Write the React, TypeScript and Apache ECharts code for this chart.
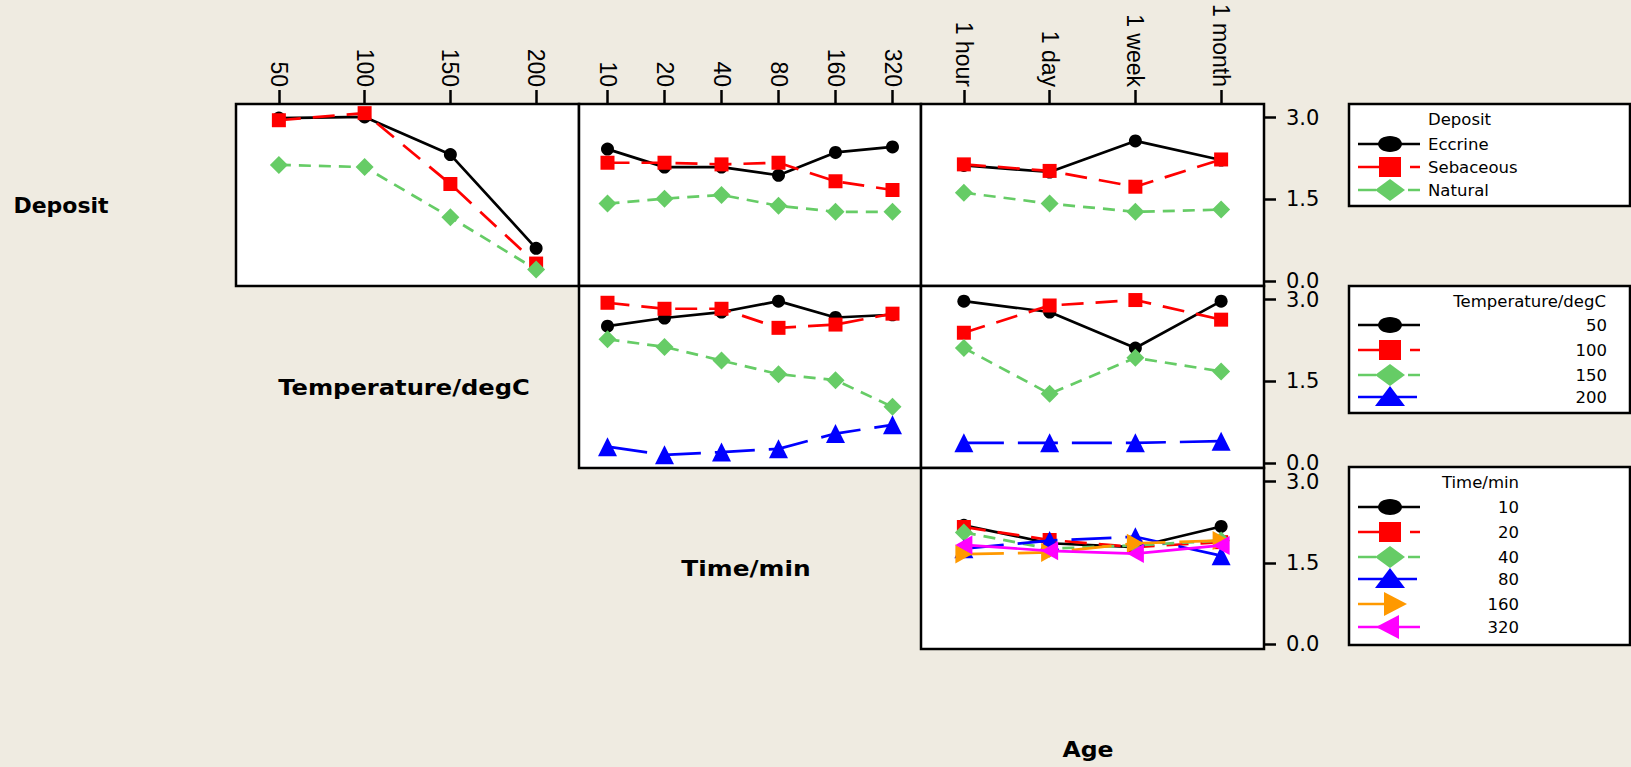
import React, { useEffect, useRef } from "react";
import * as echarts from "echarts";

// ---------- categories ----------
const temperatureLevels = ["50", "100", "150", "200"];
const timeLevels = ["10", "20", "40", "80", "160", "320"];
const ageLevels = ["1 hour", "1 day", "1 week", "1 month"];
const depositLevels = ["Eccrine", "Sebaceous", "Natural"];
const yTickMin = 0;
const yTickMax = 3.0;
const yTickStep = 1.5;

// ---------- Deposit traces ----------
const depTempEccrine = [2.99, 3.01, 2.32, 0.6];
const depTempSebaceous = [2.95, 3.08, 1.78, 0.32];
const depTempNatural = [2.13, 2.09, 1.17, 0.21];

const depTimeEccrine = [2.42, 2.09, 2.09, 1.94, 2.36, 2.46];
const depTimeSebaceous = [2.17, 2.17, 2.14, 2.17, 1.83, 1.67];
const depTimeNatural = [1.42, 1.51, 1.58, 1.38, 1.27, 1.27];

const depAgeEccrine = [2.12, 2.0, 2.57, 2.22];
const depAgeSebaceous = [2.14, 2.02, 1.73, 2.23];
const depAgeNatural = [1.62, 1.42, 1.27, 1.31];

// ---------- Temperature traces ----------
const tempTime50 = [2.51, 2.66, 2.77, 2.97, 2.67, 2.72];
const tempTime100 = [2.94, 2.83, 2.83, 2.48, 2.54, 2.74];
const tempTime150 = [2.27, 2.13, 1.88, 1.63, 1.52, 1.03];
const tempTime200 = [0.3, 0.15, 0.2, 0.26, 0.54, 0.7];

const tempAge50 = [2.97, 2.77, 2.11, 2.97];
const tempAge100 = [2.39, 2.89, 2.99, 2.63];
const tempAge150 = [2.11, 1.27, 1.93, 1.68];
const tempAge200 = [0.37, 0.37, 0.37, 0.4];

// ---------- Time traces ----------
const timeAge10 = [2.19, 1.86, 1.79, 2.17];
const timeAge20 = [2.16, 1.92, 1.79, 1.88];
const timeAge40 = [2.06, 1.76, 1.82, 1.91];
const timeAge80 = [1.76, 1.91, 1.98, 1.63];
const timeAge160 = [1.66, 1.69, 1.86, 1.91];
const timeAge320 = [1.83, 1.72, 1.67, 1.82];

// ---------- row labels ----------
const rowLabels = ["Deposit", "Temperature/degC", "Time/min", "Age"];

const BG = "#EFEBE1";
const FONT = "'DejaVu Sans', Verdana, sans-serif";

type TraceStyle = {
  color: string;
  symbol: string;
  size: number | number[];
  dash: any;
  shape: string;
  legendSegs: number[][];
};

const traceStyles: TraceStyle[] = [
  { color: "#000000", symbol: "circle", size: 13, dash: "solid", shape: "circle", legendSegs: [[1358, 1420]] },
  { color: "#FF0000", symbol: "rect", size: 14, dash: [22, 12], shape: "rect", legendSegs: [[1358, 1380], [1410, 1420]] },
  { color: "#66CC66", symbol: "diamond", size: 18, dash: [12, 8], shape: "diamond", legendSegs: [[1358, 1376], [1408, 1420]] },
  { color: "#0000FF", symbol: "triangle", size: 19, dash: [40, 14], shape: "triangle", legendSegs: [[1358, 1417]] },
  { color: "#FF9900", symbol: "path://M0,0L10,6L0,12Z", size: [17, 19], dash: [40, 14], shape: "right", legendSegs: [[1358, 1385]] },
  { color: "#FF00FF", symbol: "path://M10,0L0,6L10,12Z", size: [17, 19], dash: "solid", shape: "left", legendSegs: [[1358, 1420]] },
];

// panel frames (outer boxes) and the inner value band (0 .. 3) of each row
const colLeft = [236, 579, 921];
const colRight = [579, 921, 1264];
const rowTop = [104, 286, 468];
const rowBottom = [286, 468, 649];
const BAND_TOP_PAD = 13.5; // distance from frame top to the 3.0 level
const BAND_BOTTOM_PAD = 5; // distance from the 0.0 level to frame bottom

const panels = [
  { row: 0, col: 0, levels: temperatureLevels, names: depositLevels, traces: [depTempEccrine, depTempSebaceous, depTempNatural] },
  { row: 0, col: 1, levels: timeLevels, names: depositLevels, traces: [depTimeEccrine, depTimeSebaceous, depTimeNatural] },
  { row: 0, col: 2, levels: ageLevels, names: depositLevels, traces: [depAgeEccrine, depAgeSebaceous, depAgeNatural] },
  { row: 1, col: 1, levels: timeLevels, names: temperatureLevels, traces: [tempTime50, tempTime100, tempTime150, tempTime200] },
  { row: 1, col: 2, levels: ageLevels, names: temperatureLevels, traces: [tempAge50, tempAge100, tempAge150, tempAge200] },
  { row: 2, col: 2, levels: ageLevels, names: timeLevels, traces: [timeAge10, timeAge20, timeAge40, timeAge80, timeAge160, timeAge320] },
];

function markerGraphic(shape: string, cx: number, cy: number, color: string): any {
  const style = { fill: color, stroke: color, lineWidth: 0 };
  switch (shape) {
    case "circle":
      return { type: "ellipse", shape: { cx, cy, rx: 12, ry: 8 }, style };
    case "rect":
      return { type: "rect", shape: { x: cx - 11, y: cy - 10, width: 22, height: 20 }, style };
    case "diamond":
      return { type: "polygon", shape: { points: [[cx - 15, cy], [cx, cy - 11], [cx + 15, cy], [cx, cy + 11]] }, style };
    case "triangle":
      return { type: "polygon", shape: { points: [[cx - 15, cy + 9], [cx, cy - 11], [cx + 15, cy + 9]] }, style };
    case "right":
      return { type: "polygon", shape: { points: [[cx - 11, cy - 12], [cx + 12, cy], [cx - 11, cy + 12]] }, style };
    default:
      return { type: "polygon", shape: { points: [[cx + 11, cy - 12], [cx - 12, cy], [cx + 11, cy + 12]] }, style };
  }
}

function legendBox(
  box: number[],
  title: string,
  titleX: number,
  titleY: number,
  titleAlign: string,
  names: string[],
  ys: number[],
  textX: number,
  textAlign: string
): any[] {
  const els: any[] = [];
  els.push({
    type: "rect",
    shape: { x: box[0], y: box[1], width: box[2] - box[0], height: box[3] - box[1] },
    style: { fill: "#FFFFFF", stroke: "#000000", lineWidth: 2.5 },
  });
  els.push({
    type: "text",
    x: titleX,
    y: titleY,
    style: { text: title, fontSize: 16.5, fontFamily: FONT, fill: "#000", align: titleAlign, verticalAlign: "middle" },
  });
  names.forEach((name, i) => {
    const st = traceStyles[i];
    const y = ys[i];
    st.legendSegs.forEach((seg) => {
      els.push({
        type: "line",
        shape: { x1: seg[0], y1: y, x2: seg[1], y2: y },
        style: { stroke: st.color, lineWidth: 2.5 },
      });
    });
    els.push(markerGraphic(st.shape, i === 4 ? 1395 : i === 5 ? 1388 : 1390, y, st.color));
    els.push({
      type: "text",
      x: textX,
      y,
      style: { text: name, fontSize: 16.5, fontFamily: FONT, fill: "#000", align: textAlign, verticalAlign: "middle" },
    });
  });
  return els;
}

function buildOption(): any {
  const grid: any[] = [];
  const xAxis: any[] = [];
  const yAxis: any[] = [];
  const series: any[] = [];
  const frames: any[] = [];

  panels.forEach((p, gi) => {
    const left = colLeft[p.col];
    const width = colRight[p.col] - colLeft[p.col];
    const top = rowTop[p.row] + BAND_TOP_PAD;
    const height = rowBottom[p.row] - BAND_BOTTOM_PAD - top;
    frames.push({
      type: "rect",
      z: -10,
      shape: { x: left, y: rowTop[p.row], width, height: rowBottom[p.row] - rowTop[p.row] },
      style: { fill: "#FFFFFF", stroke: "#000000", lineWidth: 2.5 },
    });
    grid.push({
      left,
      top,
      width,
      height,
      show: false,
      containLabel: false,
      outerBoundsMode: "none",
    });
    const showX = p.row === 0;
    xAxis.push({
      type: "category",
      gridIndex: gi,
      data: p.levels,
      position: "top",
      offset: BAND_TOP_PAD,
      boundaryGap: true,
      axisLine: { show: false, onZero: false },
      axisTick: { show: showX, inside: false, length: 14, alignWithLabel: true, lineStyle: { color: "#000", width: 2.5 } },
      axisLabel: {
        show: showX,
        rotate: 90,
        margin: 17,
        interval: 0,
        color: "#000",
        fontSize: 23,
        fontFamily: "'Liberation Sans', Arial, sans-serif",
      },
      splitLine: { show: false },
    });
    const showY = p.col === 2;
    yAxis.push({
      type: "value",
      gridIndex: gi,
      position: "right",
      min: yTickMin,
      max: yTickMax,
      interval: yTickStep,
      axisLine: { show: false, onZero: false },
      axisTick: {
        show: showY,
        inside: false,
        length: 12,
        lineStyle: { color: "#000", width: 2.5 },
      },
      axisLabel: {
        show: showY,
        margin: 22,
        formatter: (v: number) => v.toFixed(1),
        color: "#000",
        fontSize: 21,
        fontFamily: FONT,
      },
      splitLine: { show: false },
    });
    p.traces.forEach((vals, k) => {
      const st = traceStyles[k];
      series.push({
        type: "line",
        name: p.names[k],
        xAxisIndex: gi,
        yAxisIndex: gi,
        data: vals,
        symbol: st.symbol,
        symbolSize: st.size,
        showSymbol: true,
        showAllSymbol: true,
        clip: false,
        lineStyle: { color: st.color, width: 2.7, type: st.dash },
        itemStyle: { color: st.color, borderWidth: 0 },
        emphasis: { disabled: true },
        silent: true,
        z: 2 + k,
      });
    });
  });

  const rowLabelPos = [
    [61, 205, 1.0],
    [404, 387, 1.1],
    [746, 569, 1.13],
    [1088, 749, 1.07],
  ];
  const graphics: any[] = [...frames];
  rowLabels.forEach((t, i) =>
    graphics.push({
      type: "text",
      x: rowLabelPos[i][0],
      y: rowLabelPos[i][1],
      scaleX: rowLabelPos[i][2],
      style: {
        text: t,
        fontSize: 22,
        fontWeight: "bold",
        fontFamily: FONT,
        fill: "#000",
        align: "center",
        verticalAlign: "middle",
      },
    })
  );

  graphics.push(
    ...legendBox([1349, 104, 1630, 206], "Deposit", 1428, 119, "left", depositLevels, [144, 167, 190], 1428, "left")
  );
  graphics.push(
    ...legendBox(
      [1349, 286, 1630, 413],
      "Temperature/degC",
      1606,
      301,
      "right",
      temperatureLevels,
      [325, 350, 375, 397],
      1607,
      "right"
    )
  );
  graphics.push(
    ...legendBox(
      [1349, 467, 1630, 645],
      "Time/min",
      1519,
      482,
      "right",
      timeLevels,
      [507, 532, 557, 579, 604, 627],
      1519,
      "right"
    )
  );

  return {
    animation: false,
    backgroundColor: BG,
    grid,
    xAxis,
    yAxis,
    series,
    graphic: { z: 0, zlevel: 0, elements: graphics },
  };
}

export default function App() {
  const ref = useRef<HTMLDivElement>(null);
  useEffect(() => {
    const chart = echarts.init(ref.current as HTMLDivElement, null, { renderer: "svg" });
    chart.setOption(buildOption());
    return () => chart.dispose();
  }, []);
  return (
    <div
      ref={ref}
      style={{ position: "absolute", left: 0, top: 0, width: 1631, height: 767, background: BG }}
    />
  );
}
